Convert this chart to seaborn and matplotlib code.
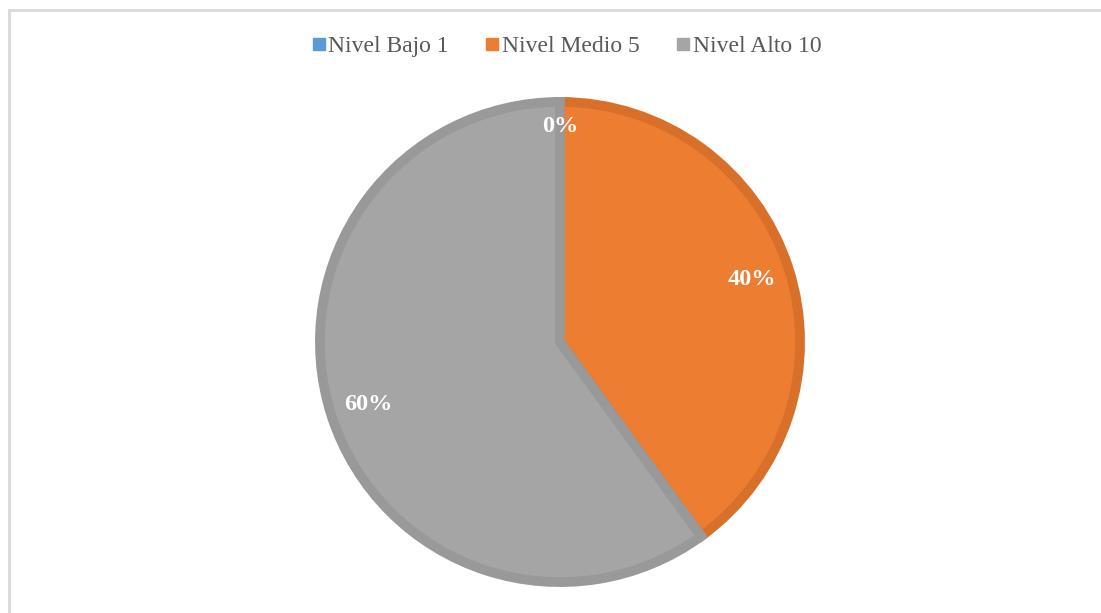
import seaborn as sns
import matplotlib.pyplot as plt
from matplotlib.lines import Line2D
from matplotlib.patches import Rectangle

labels = ['Nivel Bajo 1', 'Nivel Medio 5', 'Nivel Alto 10']
shares = [0, 40, 60]
fill_colors = ['#5B9BD5', '#ED7D31', '#A5A5A5']
edge_colors = ['#4F8AC0', '#D8702A', '#999999']

sns.set_theme(style='white')
plt.rcParams['font.family'] = ['Liberation Serif', 'DejaVu Serif']

W, H = 1101, 613
fig = plt.figure(figsize=(W / 100, H / 100), dpi=100)
cx, cy, r = 560, 342, 245
ax = fig.add_axes([(cx - r) / W, (H - cy - r) / H, 2 * r / W, 2 * r / H])

wedges, texts, autotexts = ax.pie(
    shares, colors=fill_colors, startangle=90, counterclock=False,
    radius=0.98, autopct='%1.0f%%', pctdistance=0.84,
    textprops={'color': 'white', 'fontsize': 17.5, 'fontweight': 'bold'},
    wedgeprops={'linewidth': 7})
for w, ec in zip(wedges, edge_colors):
    w.set_edgecolor(ec)
    w.set_joinstyle('miter')
autotexts[0].set_position((0, 0.88))
ax.set_xlim(-1, 1)
ax.set_ylim(-1, 1)
ax.set_aspect('equal')
ax.axis('off')

handles = [Line2D([], [], marker='s', linestyle='', markersize=8.5,
                  markerfacecolor=c, markeredgecolor=c) for c in fill_colors]
fig.legend(handles, labels, loc='center', bbox_to_anchor=(0.514, 1 - 46 / H),
           ncol=3, frameon=False, fontsize=17, handletextpad=0.05,
           columnspacing=1.5, labelcolor='#595959', handlelength=0.7)

fig.patches.append(Rectangle((9 / W, -0.1), 1.2, 1.1 - 10 / H, transform=fig.transFigure,
                             fill=False, edgecolor='#D9D9D9', linewidth=2))

fig.savefig('out.png', dpi=100)
